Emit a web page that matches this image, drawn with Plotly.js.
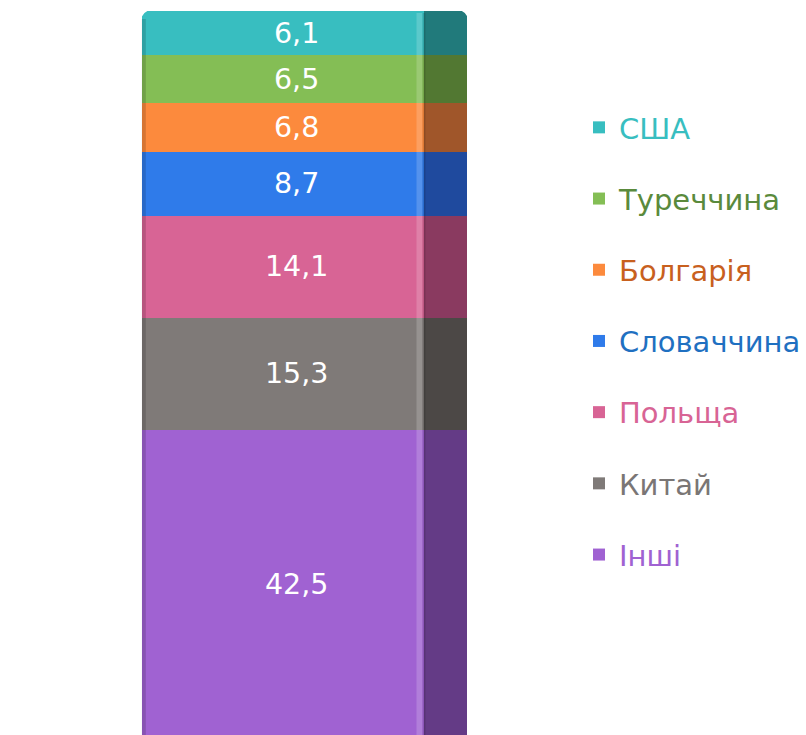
<!DOCTYPE html>
<html>
<head>
<meta charset="utf-8">
<script src="https://cdn.plot.ly/plotly-3.0.1.min.js"></script>
<style>html,body{margin:0;padding:0;background:#fff;}#chart{width:806px;height:735px;}</style>
</head>
<body>
<div id="chart"></div>
<script>
// bottom to top
const categories = ["Інші", "Китай", "Польща", "Словаччина", "Болгарія", "Туреччина", "США"];
const shares = [42.5, 15.3, 14.1, 8.7, 6.8, 6.5, 6.1];
const frontColors = ["#A062D2", "#7F7A78", "#D86495", "#2F7BEA", "#FC8A3D", "#84BE55", "#38BEC0"];
const sideColors = ["#643B86", "#4C4846", "#8A3A60", "#1F4A9E", "#A0562A", "#527832", "#217A7B"];
const legendColors = ["#A062D2", "#7A7675", "#D86495", "#1F70C1", "#C8601E", "#5A8A3C", "#38BEC0"];

const pxPerUnit = 283;
const xStart = -0.5 - 142 / pxPerUnit;
const xEnd = 0.5 + (806 - 425) / pxPerUnit;
const FRONT_X = 0, FRONT_W = 1;
const SIDE_W = 43 / pxPerUnit;
const SIDE_X = 0.5 + SIDE_W / 2;
const LABEL_W = 310 / pxPerUnit;
const LABEL_X = xStart + 297 / pxPerUnit;

const traces = [];
categories.forEach((c, i) => {
  traces.push({
    type: "bar", x: [FRONT_X], y: [shares[i]], width: [FRONT_W],
    name: '<span style="color:' + legendColors[i] + '">' + c + '</span>',
    legendgroup: c, legendrank: 100 - i,
    marker: {color: frontColors[i], line: {width: 0}},
    hoverinfo: "skip", textposition: "none"
  });
});
categories.forEach((c, i) => {
  traces.push({
    type: "bar", x: [SIDE_X], y: [shares[i]], width: [SIDE_W],
    name: c, legendgroup: c, showlegend: false,
    marker: {color: sideColors[i], line: {width: 0}},
    hoverinfo: "skip", textposition: "none"
  });
});
categories.forEach((c, i) => {
  traces.push({
    type: "bar", x: [LABEL_X], y: [shares[i]], width: [LABEL_W],
    name: c, legendgroup: c, showlegend: false,
    marker: {color: "rgba(0,0,0,0)", line: {width: 0}},
    texttemplate: "%{y:.1f}", textposition: "inside", insidetextanchor: "middle",
    textangle: 0, constraintext: "none",
    textfont: {color: "#ffffff", size: 28.5, family: "DejaVu Sans"},
    hoverinfo: "skip"
  });
});

// pixel -> paper helpers for decorative shapes (plot area: y 11..735)
const TOP = 11, PH = 735 - TOP;
const PX = v => v / 806;
const PY = v => (735 - v) / PH;
const P = (x, y) => PX(x).toFixed(5) + "," + PY(y).toFixed(5);
const R = 11;
const cornerTL = "M" + P(141, TOP - 1) + " L" + P(141 + R, TOP - 1) + " Q" + P(142, TOP) + " " + P(141, TOP - 1 + R) + " Z";
const cornerTR = "M" + P(469, TOP - 1) + " L" + P(469 - R, TOP - 1) + " Q" + P(468, TOP) + " " + P(469, TOP - 1 + R) + " Z";

const layout = {
  width: 806, height: 735,
  margin: {l: 0, r: 0, t: TOP, b: 0, pad: 0},
  paper_bgcolor: "#ffffff", plot_bgcolor: "#ffffff",
  barmode: "stack", bargap: 0,
  separators: ", ",
  font: {family: "DejaVu Sans", size: 29, color: "#444"},
  showlegend: true,
  legend: {
    x: 580 / 806, xanchor: "left", y: PY(102), yanchor: "top",
    traceorder: "grouped", tracegroupgap: 30.5,
    font: {family: "DejaVu Sans", size: 29},
    bgcolor: "rgba(0,0,0,0)", itemclick: false
  },
  xaxis: {range: [xStart, xEnd], visible: false, fixedrange: true},
  yaxis: {range: [0.55, 100], visible: false, fixedrange: true},
  shapes: [
    {type: "rect", xref: "paper", yref: "paper", x0: PX(417), x1: PX(423), y0: 0, y1: PY(TOP + 2),
     fillcolor: "rgba(255,255,255,0.18)", line: {width: 0}, layer: "above"},
    {type: "rect", xref: "paper", yref: "paper", x0: PX(423), x1: PX(426), y0: 0, y1: PY(TOP + 2),
     fillcolor: "rgba(0,0,0,0.12)", line: {width: 0}, layer: "above"},
    {type: "rect", xref: "paper", yref: "paper", x0: PX(142), x1: PX(146), y0: 0, y1: PY(TOP + 8),
     fillcolor: "rgba(0,0,0,0.15)", line: {width: 0}, layer: "above"},
    {type: "path", xref: "paper", yref: "paper", path: cornerTL,
     fillcolor: "#ffffff", line: {width: 0}, layer: "above"},
    {type: "path", xref: "paper", yref: "paper", path: cornerTR,
     fillcolor: "#ffffff", line: {width: 0}, layer: "above"}
  ]
};

Plotly.newPlot("chart", traces, layout, {staticPlot: true, displayModeBar: false});
</script>
</body>
</html>
